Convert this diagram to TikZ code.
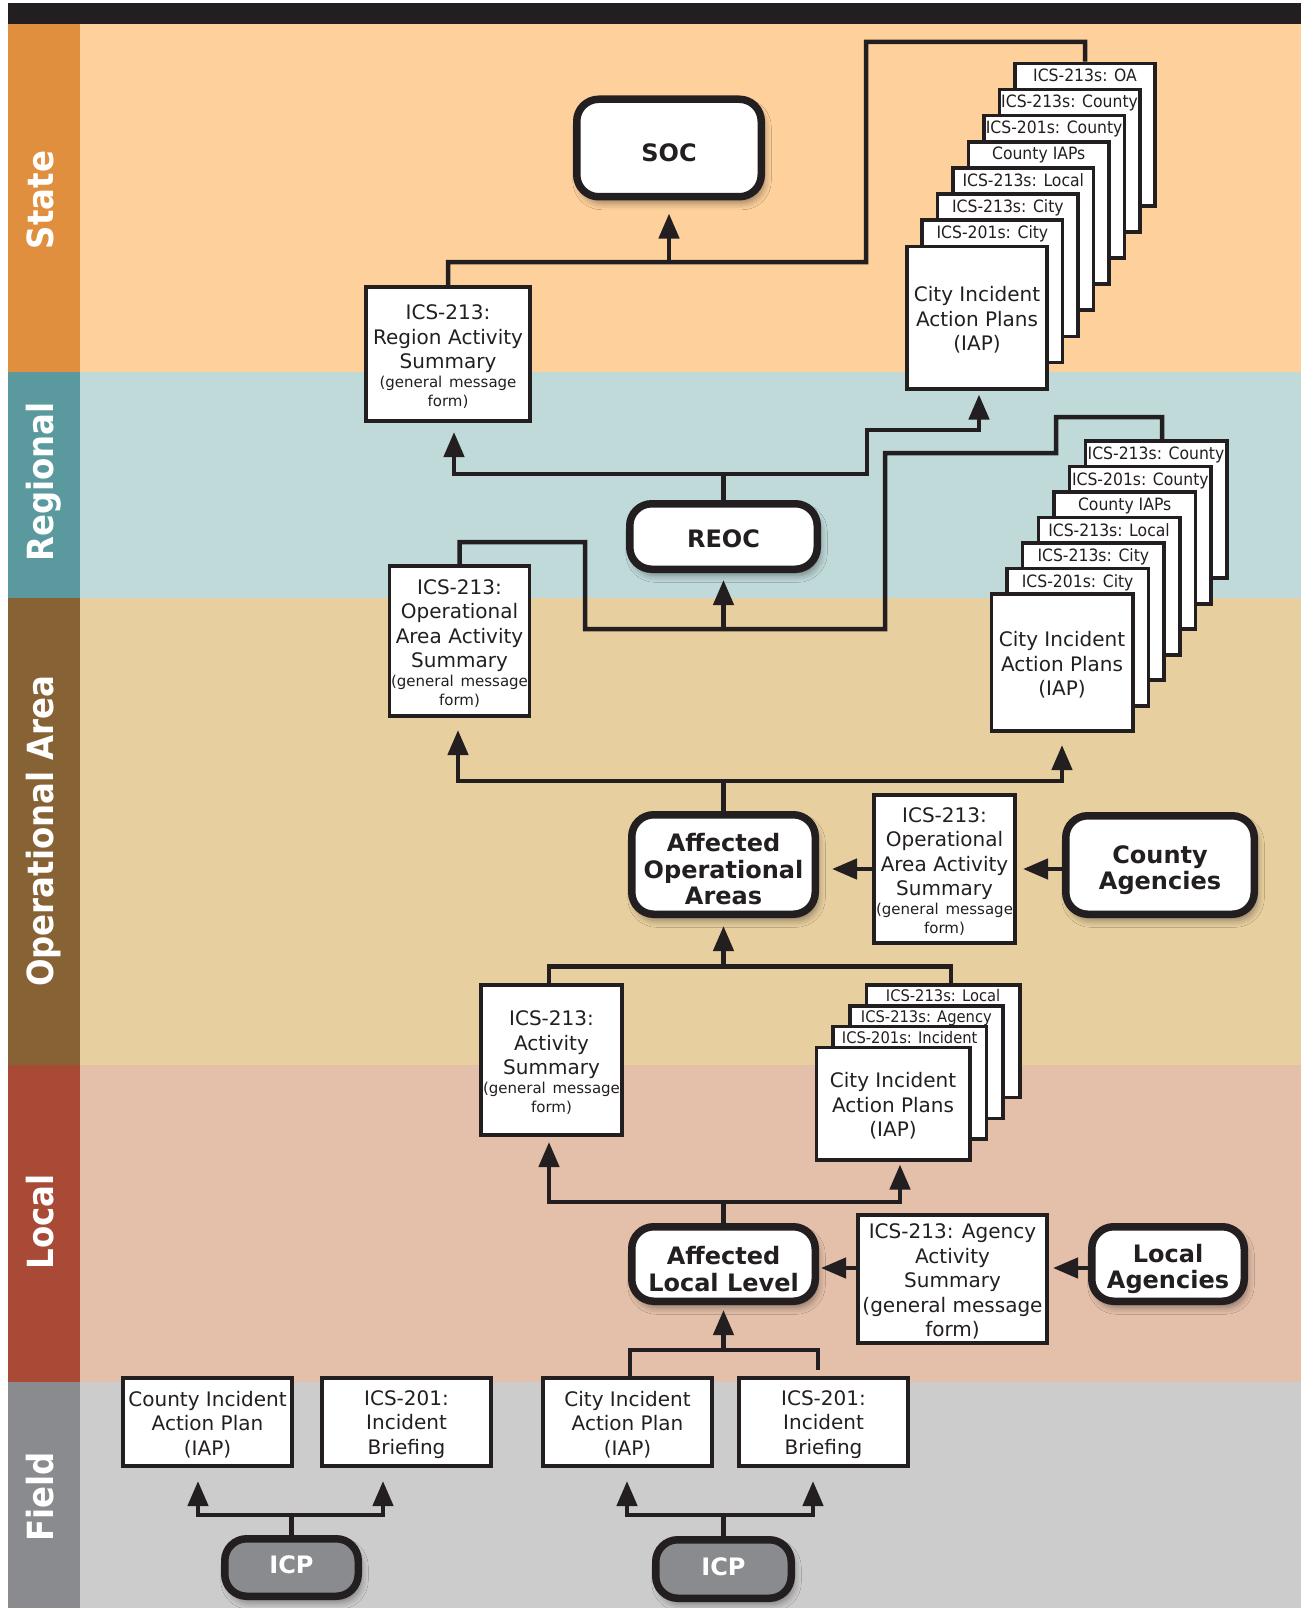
\documentclass[tikz,border=0pt]{standalone}
\usepackage{fontspec}
\setmainfont{DejaVu Sans}
\newfontfamily\tabface{DejaVu Sans}[FakeStretch=0.92]
\newfontfamily\bandface{DejaVu Sans}[FakeStretch=0.9]
\usetikzlibrary{arrows.meta,calc,shadows.blur}

\definecolor{ink}{HTML}{231F20}
\definecolor{stateBg}{HTML}{FDD09C}
\definecolor{stateCol}{HTML}{E08F3F}
\definecolor{regionBg}{HTML}{C0D9D9}
\definecolor{regionCol}{HTML}{5A9A9F}
\definecolor{opBg}{HTML}{E8CF9F}
\definecolor{opCol}{HTML}{876235}
\definecolor{localBg}{HTML}{E4BFA9}
\definecolor{localCol}{HTML}{A84A36}
\definecolor{fieldBg}{HTML}{CCCCCC}
\definecolor{fieldCol}{HTML}{8A8B8E}
\definecolor{icpFill}{HTML}{8A8B8E}

\newcommand{\txtmain}{\fontsize{20}{24.5}\selectfont}
\newcommand{\txtsmall}{\fontsize{15}{19}\selectfont}
\newcommand{\txttab}{\tabface\fontsize{17}{19}\selectfont}
\newcommand{\txttabsmall}{\tabface\fontsize{16}{18}\selectfont}
\newcommand{\txthub}{\bfseries\fontsize{24}{26.5}\selectfont}
\newcommand{\txtband}{\bandface\bfseries\fontsize{36}{40}\selectfont}
% invisible struts that lower the first line of a label a little
\newcommand{\hubstrut}{\rule{0pt}{28pt}}
\newcommand{\docstrut}{\rule{0pt}{20pt}}

\begin{document}
\begin{tikzpicture}[x=1pt,y=-1pt,
  doc/.style={draw=ink, fill=white, line width=3.6pt, inner sep=0pt, align=center, font=\txtmain, text=ink},
  hub/.style={draw=ink, fill=white, line width=7.5pt, rounded corners=22pt, inner sep=0pt,
    align=center, font=\txthub, text=ink,
    blur shadow={shadow xshift=3pt, shadow yshift=-6pt, shadow blur radius=7pt, shadow opacity=40}},
  icp/.style={hub, fill=icpFill, text=white, text depth=5pt},
  wire/.style={draw=ink, line width=4.5pt, line join=miter},
  feed/.style={wire, -{Triangle[width=20pt,length=25pt]}},
  tab/.style={inner sep=0pt, font=\txttab, text=ink, anchor=base},
  band/.style={text=white, font=\txtband, rotate=90, anchor=base, inner sep=0pt},
]
\useasboundingbox (0,0) rectangle (1301,1608);
\fill[white] (0,0) rectangle (1301,1608);

% ---- horizontal bands and their coloured title column
\fill[ink] (8,3) rectangle (1301,24);
\fill[stateBg]  (80,24)   rectangle (1301,372);
\fill[stateCol] (8,24)    rectangle (80,372);
\fill[regionBg] (80,372)  rectangle (1301,598);
\fill[regionCol](8,372)   rectangle (80,598);
\fill[opBg]     (80,598)  rectangle (1301,1065);
\fill[opCol]    (8,598)   rectangle (80,1065);
\fill[localBg]  (80,1065) rectangle (1301,1382);
\fill[localCol] (8,1065)  rectangle (80,1382);
\fill[fieldBg]  (80,1382) rectangle (1301,1608);
\fill[fieldCol] (8,1382)  rectangle (80,1608);

\node[band] (lblState) at (53,200) {State};
\node[band] (lblRegion) at (53,482) {Regional};
\node[band] (lblOp) at (53,831) {Operational Area};
\node[band] (lblLocal) at (53,1222) {Local};
\node[band] (lblField) at (53,1497) {Field};

% ---- state level
\node[hub, minimum width=184.5, minimum height=97.5] (soc) at (669,148) {\hubstrut SOC};
\node[doc, minimum width=164.4, text width=164, minimum height=134.4] (rgn) at (448,354)
  {\docstrut ICS-213:\\Region Activity\\Summary\\\txtsmall(general message\\form)\par};

\foreach \i/\t in {7/{ICS-213s: OA},6/{ICS-213s: County},5/{ICS-201s: County},4/{County IAPs},3/{ICS-213s: Local},2/{ICS-213s: City},1/{ICS-201s: City}} {
  \node[doc, minimum width=140.4, minimum height=142.4] (sA\i) at ({977+\i*15.43},{317.5-\i*26.14}) {};
  \node[tab] (sAt\i) at ($(sA\i.north)+(0,20)$) {\t};
}
\node[doc, minimum width=140.4, minimum height=142.4] (sA0) at (977,317.5) {\docstrut City Incident\\Action Plans\\(IAP)};

% ---- regional level
\node[hub, minimum width=187.5, minimum height=65.5] (reoc) at (723.5,536.5) {\rule{0pt}{22pt}REOC};
\foreach \i/\t in {6/{ICS-213s: County},5/{ICS-201s: County},4/{County IAPs},3/{ICS-213s: Local},2/{ICS-213s: City},1/{ICS-201s: City}} {
  \node[doc, minimum width=141.4, minimum height=137.4] (sB\i) at ({1062+\i*15.67},{662.5-\i*25.5}) {};
  \node[tab] (sBt\i) at ($(sB\i.north)+(0,20.5)$) {\t};
}
\node[doc, minimum width=141.4, minimum height=137.4] (sB0) at (1062,662.5) {\docstrut City Incident\\Action Plans\\(IAP)};

% ---- operational area level
\node[doc, minimum width=139.4, text width=140, minimum height=150.4] (oas) at (459.5,641)
  {\docstrut ICS-213:\\Operational\\Area Activity\\Summary\\\txtsmall(general message\\form)\par};
\node[hub, minimum width=183.5, minimum height=99.5] (aoa) at (723.5,864.5) {\hubstrut Affected\\Operational\\Areas};
\node[doc, minimum width=141.4, text width=141, minimum height=148.4] (oam) at (944.5,869)
  {\docstrut ICS-213:\\Operational\\Area Activity\\Summary\\\txtsmall(general message\\form)\par};
\node[hub, minimum width=188.5, minimum height=98.5] (cag) at (1160,865) {\hubstrut County\\Agencies};

% ---- local level
\node[doc, minimum width=141.4, text width=141, minimum height=150.4] (act) at (551.5,1060)
  {\docstrut ICS-213:\\Activity\\Summary\\\txtsmall(general message\\form)\par};
\foreach \i/\t in {3/{ICS-213s: Local},2/{ICS-213s: Agency},1/{ICS-201s: Incident}} {
  \node[doc, minimum width=153.4, minimum height=112.4] (sC\i) at ({893+\i*16.7},{1103.5-\i*20.7}) {};
  \node[tab, font=\txttabsmall] (sCt\i) at ($(sC\i.north)+(0,18.5)$) {\t};
}
\node[doc, minimum width=153.4, minimum height=112.4] (sC0) at (893,1103.5) {\docstrut City Incident\\Action Plans\\(IAP)};
\node[hub, minimum width=183.5, minimum height=74.5] (aol) at (723.5,1264) {\hubstrut Affected\\Local Level};
\node[doc, minimum width=189.4, minimum height=128.4] (agy) at (952.5,1279)
  {\docstrut ICS-213: Agency\\Activity\\Summary\\(general message\\form)};
\node[hub, minimum width=152.5, minimum height=74.5] (lag) at (1168,1264) {\hubstrut Local\\Agencies};

% ---- field level
\node[doc, minimum width=169.4, minimum height=88.4] (f1) at (207.5,1422) {\docstrut County Incident\\Action Plan\\(IAP)};
\node[doc, minimum width=169.4, minimum height=88.4] (f2) at (406.5,1422) {\docstrut ICS-201:\\Incident\\Briefing};
\node[doc, minimum width=169.4, minimum height=88.4] (f3) at (627.5,1422) {\docstrut City Incident\\Action Plan\\(IAP)};
\node[doc, minimum width=169.4, minimum height=88.4] (f4) at (823.5,1422) {\docstrut ICS-201:\\Incident\\Briefing};
\node[icp, minimum width=133.5, minimum height=57.5] (icp1) at (291.5,1567.5) {ICP};
\node[icp, minimum width=135.5, minimum height=58.5] (icp2) at (723.5,1569) {ICP};

% ---- connectors: state
\coordinate (jA) at (866,262);
\coordinate (kA) at (1085,42);
\coordinate (jSOC) at (669,262);
\draw[wire] (rgn.north) |- (jA) |- (kA) -- (sA7.north);
\draw[feed, shorten >=13pt] (jSOC) -- (soc.south);

% ---- connectors: REOC distributes upward
\coordinate (jR) at (723.5,474);
\coordinate (kR) at (867,430);
\draw[wire] (reoc.north) -- (jR);
\draw[feed] (jR) -| ($(rgn.south)+(6,9)$);
\draw[feed] (jR) -| (kR) -| ($(sA0.south)+(2,4)$);

% ---- connectors: operational area feeds REOC
\coordinate (jR2) at (723.5,629);
\draw[wire] (oas.north) |- (585,542) |- (885,629) |- (1056,453) |- (1162,417) -- ($(sB6.north)+(6,0)$);
\draw[feed, shorten >=7pt] (jR2) -- (reoc.south);

% ---- connectors: affected operational areas distribute
\coordinate (jO) at (723.5,781);
\draw[wire] (aoa.north) -- (jO);
\draw[feed] (jO) -| ($(oas.south)+(-1.5,12)$);
\draw[feed] (jO) -| ($(sB0.south)+(0,12)$);
\draw[feed] (cag.west |- oam.center) -- ($(oam.east)+(6,0)$);
\draw[feed] (oam.west) -- ($(oam.west -| aoa.east)+(13,0)$);

% ---- connectors: local level feeds operational area
\coordinate (jO2) at (723.5,966);
\draw[wire] ($(act.north)+(-2.5,0)$) |- ($(sC3.north)+(8,-17)$) -- ($(sC3.north)+(8,0)$);
\draw[feed, shorten >=8pt] (jO2) -- (aoa.south);

% ---- connectors: affected local level distributes
\coordinate (jL) at (723.5,1202);
\draw[wire] (aol.north) -- (jL);
\draw[feed] (jL) -| ($(act.south)+(-2.5,5)$);
\draw[feed] (jL) -| ($(sC0.south)+(7,3)$);
\draw[feed] ($(lag.west)+(0,4)$) -- ($(agy.east |- lag.west)+(4,4)$);
\draw[feed] ($(agy.west |- lag.west)+(0,4)$) -- ($(aol.east)+(2,4)$);

% ---- connectors: field feeds local level
\coordinate (jF) at (723.5,1350);
\draw[wire] ($(f3.north)+(2.5,0)$) |- ($(f4.north)+(-5.5,-26)$) -- ($(f4.north)+(-5.5,-6)$);
\draw[feed, shorten >=5pt] (jF) -- (aol.south);

% ---- connectors: incident command posts
\coordinate (jI1) at (291.5,1515);
\coordinate (jI2) at (723.5,1515);
\draw[wire] (icp1.north) -- (jI1);
\draw[feed] (jI1) -| ($(f1.south)+(-9.5,13)$);
\draw[feed] (jI1) -| ($(f2.south)+(-23.5,13)$);
\draw[wire] (icp2.north) -- (jI2);
\draw[feed] (jI2) -| ($(f3.south)+(-0.5,13)$);
\draw[feed] (jI2) -| ($(f4.south)+(-10.5,13)$);
\end{tikzpicture}
\end{document}
